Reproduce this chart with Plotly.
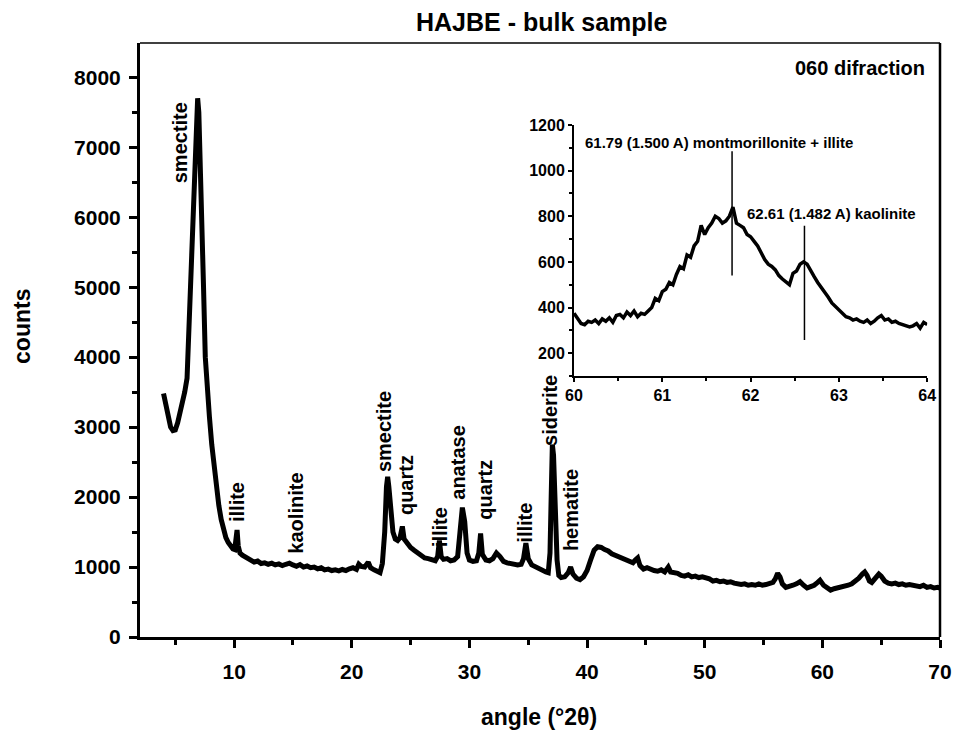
import plotly.graph_objects as go

# ---------------- main diffractogram ----------------
angle = [4.0, 4.2, 4.4, 4.6, 4.8, 5.0, 5.2, 5.4, 5.6, 5.8, 6.0, 6.2, 6.4, 6.6, 6.8, 6.9, 7.0, 7.15, 7.3, 7.4,
         7.55, 7.7, 7.9, 8.1, 8.3, 8.5, 8.7, 8.9, 9.1, 9.3, 9.5, 9.7, 9.9, 10.05, 10.15, 10.25, 10.35, 10.5, 10.7, 10.9,
         11.1, 11.4, 11.7, 12.0, 12.3, 12.6, 12.9, 13.2, 13.5, 13.8, 14.1, 14.4, 14.7, 15.0, 15.3, 15.6, 15.9, 16.2, 16.5, 16.8,
         17.1, 17.4, 17.7, 18.0, 18.3, 18.6, 18.9, 19.2, 19.5, 19.8, 20.1, 20.4, 20.6, 20.8, 21.1, 21.4, 21.6, 21.9, 22.2, 22.4,
         22.6, 22.8, 22.95, 23.05, 23.15, 23.3, 23.5, 23.7, 23.9, 24.1, 24.3, 24.45, 24.7, 25.0, 25.3, 25.6, 25.9, 26.2, 26.5, 26.8,
         27.1, 27.3, 27.45, 27.6, 27.8, 28.1, 28.4, 28.7, 29.0, 29.2, 29.4, 29.6, 29.8, 30.0, 30.3, 30.6, 30.8, 30.95, 31.1, 31.4,
         31.7, 32.0, 32.3, 32.6, 32.9, 33.2, 33.5, 33.8, 34.1, 34.4, 34.6, 34.8, 35.0, 35.3, 35.6, 35.9, 36.2, 36.5, 36.7, 36.85,
         36.95, 37.05, 37.15, 37.3, 37.45, 37.6, 37.8, 38.1, 38.4, 38.6, 38.8, 39.1, 39.4, 39.7, 40.0, 40.3, 40.6, 40.9, 41.2, 41.5,
         41.8, 42.1, 42.4, 42.7, 43.0, 43.3, 43.6, 43.9, 44.1, 44.3, 44.5, 44.8, 45.1, 45.4, 45.7, 46.0, 46.3, 46.6, 46.9, 47.1,
         47.4, 47.7, 48.0, 48.3, 48.6, 48.9, 49.2, 49.5, 49.8, 50.1, 50.4, 50.7, 51.0, 51.3, 51.6, 51.9, 52.2, 52.5, 52.8, 53.1,
         53.4, 53.7, 54.0, 54.3, 54.6, 54.9, 55.2, 55.5, 55.8, 56.0, 56.2, 56.4, 56.6, 56.9, 57.2, 57.5, 57.8, 58.1, 58.4, 58.7,
         59.0, 59.3, 59.6, 59.8, 60.1, 60.4, 60.7, 61.0, 61.3, 61.6, 61.9, 62.2, 62.5, 62.8, 63.1, 63.4, 63.6, 63.8, 64.0, 64.2,
         64.5, 64.8, 65.0, 65.3, 65.6, 65.9, 66.2, 66.5, 66.8, 67.1, 67.4, 67.7, 68.0, 68.3, 68.6, 68.9, 69.2, 69.5, 69.8, 70.0]
counts = [3480, 3300, 3120, 3000, 2950, 2960, 3060, 3200, 3350, 3500, 3700, 4600, 5600, 6500, 7300, 7700, 7500, 6700, 5700, 5000,
          4000, 3500, 3150, 2750, 2400, 2120, 1880, 1680, 1520, 1420, 1350, 1300, 1260, 1250, 1380, 1530, 1300, 1200, 1170, 1150,
          1120, 1090, 1070, 1085, 1050, 1060, 1040, 1055, 1030, 1045, 1020, 1040, 1055, 1030, 1010, 1035, 1000, 1015, 990, 1000,
          975, 990, 960, 970, 950, 960, 945, 965, 950, 975, 990, 965, 1040, 1010, 1000, 1070, 990, 960, 930, 920,
          1050, 1500, 2150, 2290, 2150, 1750, 1500, 1400, 1380, 1420, 1580, 1400, 1330, 1280, 1240, 1200, 1160, 1130, 1120, 1100,
          1090, 1150, 1380, 1150, 1110, 1120, 1090, 1100, 1150, 1500, 1850, 1650, 1200, 1100, 1080, 1090, 1200, 1480, 1180, 1100,
          1090, 1120, 1200, 1150, 1080, 1060, 1050, 1040, 1030, 1040, 1120, 1340, 1120, 1030, 1000, 980, 960, 930, 920, 1200,
          2000, 2750, 2600, 1700, 1100, 880, 850, 860, 920, 1000, 900, 840, 820, 860, 950, 1100, 1240, 1290, 1280, 1250,
          1230, 1190, 1170, 1150, 1120, 1100, 1080, 1060, 1100, 1130, 1020, 970, 990, 960, 950, 940, 960, 930, 1000, 930,
          920, 910, 880, 870, 890, 860, 870, 850, 860, 850, 830, 800, 810, 790, 800, 780, 790, 770, 760, 750,
          760, 740, 750, 740, 760, 740, 750, 760, 780, 830, 910, 860, 760, 710, 720, 740, 760, 790, 740, 700,
          720, 740, 780, 810, 740, 700, 670, 690, 700, 720, 730, 740, 760, 790, 840, 900, 930, 880, 800, 780,
          850, 900, 870, 800, 770, 760, 770, 750, 760, 740, 750, 740, 730, 720, 740, 710, 720, 700, 710, 700]

# peak labels (mineral, angle, counts at label centre)
peak_names = ["smectite", "illite", "kaolinite", "smectite", "quartz", "illite", "anatase",
              "quartz", "illite", "siderite", "hematite"]
peak_x = [5.4, 10.25, 15.3, 22.75, 24.6, 27.5, 29.0, 31.3, 34.7, 36.9, 38.7]
peak_y = [7057, 1930, 1770, 2930, 2170, 1570, 2500, 2100, 1630, 3240, 1810]

# ---------------- inset: 060 diffraction ----------------
inset_angle = [60.00, 60.04, 60.08, 60.12, 60.16, 60.20, 60.24, 60.28, 60.32, 60.36, 60.40, 60.44, 60.48, 60.52, 60.56,
               60.60, 60.64, 60.68, 60.72, 60.76, 60.80, 60.84, 60.88, 60.92, 60.96, 61.00, 61.04, 61.08, 61.12, 61.16,
               61.20, 61.24, 61.28, 61.32, 61.36, 61.40, 61.44, 61.48, 61.52, 61.56, 61.60, 61.64, 61.68, 61.72, 61.76,
               61.80, 61.84, 61.88, 61.92, 61.96, 62.00, 62.04, 62.08, 62.12, 62.16, 62.20, 62.24, 62.28, 62.32, 62.36,
               62.40, 62.44, 62.48, 62.52, 62.56, 62.60, 62.64, 62.68, 62.72, 62.76, 62.80, 62.84, 62.88, 62.92, 62.96,
               63.00, 63.04, 63.08, 63.12, 63.16, 63.20, 63.24, 63.28, 63.32, 63.36, 63.40, 63.44, 63.48, 63.52, 63.56,
               63.60, 63.64, 63.68, 63.72, 63.76, 63.80, 63.84, 63.88, 63.92, 63.96, 64.00]
inset_counts = [375, 350, 330, 325, 340, 335, 345, 330, 350, 340, 355, 335, 365, 370, 355,
                380, 365, 385, 360, 375, 370, 385, 400, 440, 430, 470, 480, 510, 500, 545,
                580, 570, 630, 620, 670, 690, 760, 720, 750, 770, 800, 790, 770, 780, 800,
                840, 770, 760, 750, 720, 710, 690, 670, 640, 610, 590, 580, 565, 540, 525,
                510, 500, 550, 560, 590, 600, 590, 560, 535, 510, 490, 465, 445, 420, 405,
                385, 375, 360, 355, 345, 350, 340, 335, 345, 330, 340, 355, 365, 345, 350,
                335, 340, 330, 325, 320, 315, 320, 330, 310, 335, 325]

marker_x = [61.79, 62.61]
marker_lo = [540, 258]
marker_hi = [1085, 758]
marker_text = ["61.79 (1.500 A) montmorillonite + illite", "62.61 (1.482 A) kaolinite"]
marker_tx = [60.10, 61.94]
marker_ty = [1125, 814]

FONT = "Liberation Sans, Arial, sans-serif"

fig = go.Figure()
fig.add_trace(go.Scatter(x=angle, y=counts, mode="lines",
                         line=dict(color="black", width=5), xaxis="x", yaxis="y",
                         showlegend=False, hoverinfo="skip"))
fig.add_trace(go.Scatter(x=inset_angle, y=inset_counts, mode="lines",
                         line=dict(color="black", width=3.5), xaxis="x2", yaxis="y2",
                         showlegend=False, hoverinfo="skip"))

annotations = []
for n, px, py in zip(peak_names, peak_x, peak_y):
    annotations.append(dict(text=n, x=px, y=py, xref="x", yref="y", showarrow=False,
                            textangle=-90, xanchor="center", yanchor="middle",
                            font=dict(family=FONT, size=20, color="black", weight="bold")))
for t, tx, ty in zip(marker_text, marker_tx, marker_ty):
    annotations.append(dict(text=t, x=tx, y=ty, xref="x2", yref="y2", showarrow=False,
                            xanchor="left", yanchor="middle",
                            font=dict(family=FONT, size=15, color="black", weight="bold")))
annotations += [
    dict(text="HAJBE - bulk sample", x=0.5025, y=1.035, xref="paper", yref="paper", showarrow=False,
         xanchor="center", yanchor="middle", font=dict(family=FONT, size=25, color="black", weight="bold")),
    dict(text="060 difraction", x=0.984, y=0.958, xref="paper", yref="paper", showarrow=False,
         xanchor="right", yanchor="middle", font=dict(family=FONT, size=20, color="black", weight="bold")),
    dict(text="counts", x=-0.1475, y=0.522, xref="paper", yref="paper", showarrow=False, textangle=-90,
         xanchor="center", yanchor="middle", font=dict(family=FONT, size=23, color="black", weight="bold")),
    dict(text="angle (°2θ)", x=0.499, y=-0.135, xref="paper", yref="paper", showarrow=False,
         xanchor="center", yanchor="middle", font=dict(family=FONT, size=23, color="black", weight="bold")),
]

shapes = []
for mx, lo, hi in zip(marker_x, marker_lo, marker_hi):
    shapes.append(dict(type="line", xref="x2", yref="y2", x0=mx, x1=mx, y0=lo, y1=hi,
                       line=dict(color="black", width=1.5)))
shapes.append(dict(type="line", xref="paper", yref="paper", x0=0, x1=1, y0=1, y1=1,
                   line=dict(color="black", width=1.5)))
shapes.append(dict(type="line", xref="paper", yref="paper", x0=1, x1=1, y0=0, y1=1,
                   line=dict(color="black", width=2.5)))

fig.update_layout(
    width=955, height=731, autosize=False,
    margin=dict(l=140, r=15, t=43, b=94, autoexpand=False),
    plot_bgcolor="white", paper_bgcolor="white",
    showlegend=False,
    annotations=annotations, shapes=shapes,
    xaxis=dict(range=[2, 70], dtick=10, tick0=0, showgrid=False, zeroline=False, automargin=False,
               showline=True, linecolor="black", linewidth=3, ticks="outside", ticklen=8, tickwidth=3,
               tickcolor="black", ticklabelstandoff=6,
               minor=dict(dtick=5, tick0=0, ticks="outside", ticklen=5, tickwidth=2.5, tickcolor="black"),
               tickfont=dict(family=FONT, size=21, color="black", weight="bold")),
    yaxis=dict(range=[0, 8490], dtick=1000, tick0=0, showgrid=False, zeroline=False, automargin=False,
               showline=True, linecolor="black", linewidth=3, ticks="outside", ticklen=8, tickwidth=3,
               tickcolor="black", ticklabelstandoff=4,
               minor=dict(dtick=500, tick0=0, ticks="outside", ticklen=5, tickwidth=2.5, tickcolor="black"),
               tickfont=dict(family=FONT, size=21, color="black", weight="bold")),
    xaxis2=dict(domain=[0.5425, 0.984], anchor="y2", range=[60, 64], dtick=1, tick0=60, automargin=False,
                showgrid=False, zeroline=False, showline=True, linecolor="black", linewidth=2,
                ticks="outside", ticklen=4, tickwidth=2, tickcolor="black",
                minor=dict(dtick=0.5, ticks="outside", ticklen=3, tickwidth=1.5, tickcolor="black"),
                tickfont=dict(family=FONT, size=16, color="black", weight="bold")),
    yaxis2=dict(domain=[0.4394, 0.862], anchor="x2", range=[100, 1200], dtick=200, tick0=0, automargin=False,
                showgrid=False, zeroline=False, showline=True, linecolor="black", linewidth=2,
                ticks="outside", ticklen=4, tickwidth=2, tickcolor="black",
                minor=dict(dtick=100, ticks="outside", ticklen=3, tickwidth=1.5, tickcolor="black"),
                tickfont=dict(family=FONT, size=16, color="black", weight="bold")),
)

# remove the default page margin / scrollbars so the 955x731 figure fills the window exactly
page_fix = ("document.documentElement.style.overflow='hidden';"
            "document.body.style.margin='0';document.body.style.overflow='hidden';")
fig.write_html("out.html", post_script=page_fix, config={"displayModeBar": False})
